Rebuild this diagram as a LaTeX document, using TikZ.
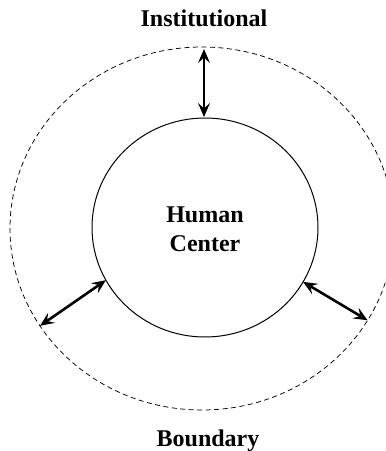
\documentclass[tikz,border=0pt]{standalone}
\usepackage{fontspec}
\setmainfont{Liberation Serif}
\usetikzlibrary{shapes.geometric,arrows.meta}
\tikzset{
  lbl/.style={font=\bfseries\fontsize{24}{29}\selectfont, inner sep=0pt, anchor=base},
  ring/.style={ellipse, draw, inner sep=0pt, outer sep=0pt},
  headtip/.tip={Stealth[length=14pt,width=12pt,inset=5.5pt]},
  dblarrow/.style={line width=2.6pt, {headtip}-{headtip}}
}
\begin{document}
\begin{tikzpicture}[x=1pt,y=-1pt]
\useasboundingbox (0,0) rectangle (386,451);
\node[ring, dashed, dash pattern=on 5pt off 3.5pt, line width=0.75pt, minimum width=384pt, minimum height=363pt] (outer) at (202,228.5) {};
\node[ring, line width=1pt, minimum width=226pt, minimum height=219pt] (inner) at (205,227.5) {};
\node[lbl] (inst) at (204,26) {Institutional};
\node[lbl] (bound) at (208,446) {Boundary};
\node[lbl] (hum) at (205,222) {Human};
\node[lbl] (cen) at (205,251) {Center};
\draw[dblarrow] ([xshift=2pt,yshift=-2pt]outer.north) -- ([xshift=-1pt,yshift=1pt]inner.north);
\draw[dblarrow] (outer.211.4) -- (inner.208.8);
\draw[dblarrow] (inner.331.4) -- (outer.331.5);
\end{tikzpicture}
\end{document}
